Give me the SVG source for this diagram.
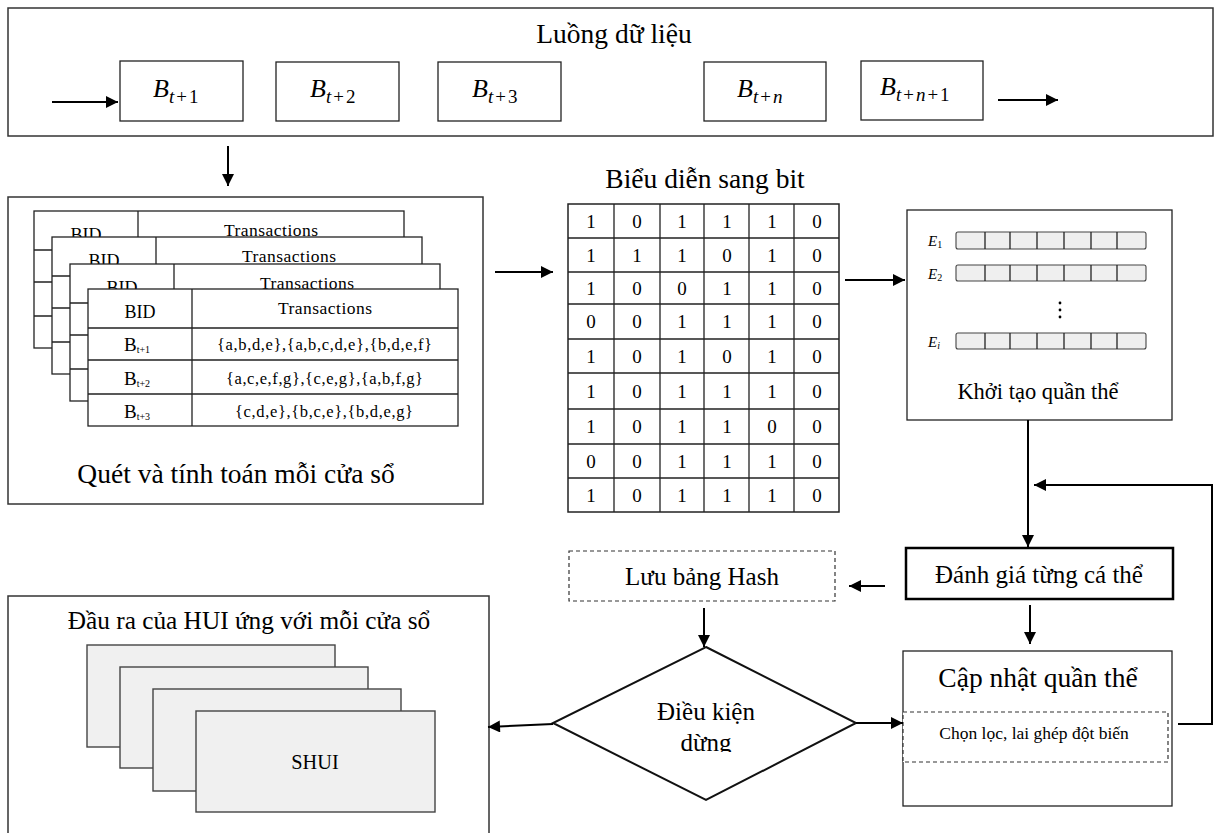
<svg xmlns="http://www.w3.org/2000/svg" width="1218" height="833" viewBox="0 0 1218 833">
<defs>
<style>
text{font-family:"Liberation Serif","Times New Roman",serif;fill:#000}
.box{fill:#fff;stroke:#333;stroke-width:1.5}
.bx{fill:#fff;stroke:#222;stroke-width:1.3}
.tb{fill:#fff;stroke:#222;stroke-width:1.3}
.ln{stroke:#222;stroke-width:1.3;fill:none}
.dash{fill:#fff;stroke:#333;stroke-width:1.2;stroke-dasharray:4 3}
.cell{fill:#efefef;stroke:#444;stroke-width:1.1}
.pg{fill:#f0f0f0;stroke:#444;stroke-width:1.4}
.c{text-anchor:middle}
.m{font-size:19px;text-anchor:middle}
.it{font-style:italic}
.sub{font-size:19px;letter-spacing:2px}
.conn{stroke:#000;stroke-width:2;fill:none;marker-end:url(#ah)}
</style>
<marker id="ah" viewBox="0 0 10 10" refX="10" refY="5" markerWidth="14" markerHeight="12" markerUnits="userSpaceOnUse" orient="auto"><path d="M0,0 L10,5 L0,10 z" fill="#000"/></marker>
<clipPath id="dclip"><rect x="600" y="690" width="220" height="62"/></clipPath>
</defs>

<g id="stream">
<rect class="box" x="8" y="8" width="1205" height="128"/>
<text class="c" x="614" y="43" font-size="27.5">Luồng dữ liệu</text>
<rect class="bx" x="120" y="61" width="123" height="60"/>
<text x="153" y="97" font-size="26"><tspan class="it">B</tspan><tspan class="sub" dy="6"><tspan class="it">t</tspan>+1</tspan></text>
<rect class="bx" x="276" y="62" width="123" height="59"/>
<text x="310" y="97" font-size="26"><tspan class="it">B</tspan><tspan class="sub" dy="6"><tspan class="it">t</tspan>+2</tspan></text>
<rect class="bx" x="438" y="62" width="123" height="59"/>
<text x="472" y="97" font-size="26"><tspan class="it">B</tspan><tspan class="sub" dy="6"><tspan class="it">t</tspan>+3</tspan></text>
<rect class="bx" x="704" y="62" width="122" height="59"/>
<text x="737" y="97" font-size="26"><tspan class="it">B</tspan><tspan class="sub" dy="6"><tspan class="it">t</tspan>+<tspan class="it">n</tspan></tspan></text>
<rect class="bx" x="861" y="61" width="122" height="59"/>
<text x="880" y="95" font-size="26"><tspan class="it">B</tspan><tspan class="sub" dy="6"><tspan class="it">t</tspan>+<tspan class="it">n</tspan>+1</tspan></text>
</g>

<g id="scan">
<rect class="box" x="8" y="197" width="475" height="307"/>
<g id="table1">
<rect class="tb" x="34" y="211" width="370" height="137"/>
<path class="ln" d="M138,211V348M34,250H404M34,282H404M34,316H404"/>
<text class="c" x="86" y="241" font-size="18">BID</text>
<text class="c" x="271" y="236" font-size="17.5" textLength="94" lengthAdjust="spacing">Transactions</text>
</g>
<g id="table2">
<rect class="tb" x="52" y="237" width="370" height="137"/>
<path class="ln" d="M156,237V374M52,276H422M52,308H422M52,342H422"/>
<text class="c" x="104" y="267" font-size="18">BID</text>
<text class="c" x="289" y="262" font-size="17.5" textLength="94" lengthAdjust="spacing">Transactions</text>
</g>
<g id="table3">
<rect class="tb" x="70" y="264" width="370" height="137"/>
<path class="ln" d="M174,264V401M70,303H440M70,335H440M70,369H440"/>
<text class="c" x="122" y="294" font-size="18">BID</text>
<text class="c" x="307" y="289" font-size="17.5" textLength="94" lengthAdjust="spacing">Transactions</text>
</g>
<g id="table4">
<rect class="tb" x="88" y="289" width="370" height="137"/>
<path class="ln" d="M192,289V426M88,328H458M88,360H458M88,394H458"/>
<text class="c" x="140" y="318" font-size="18">BID</text>
<text class="c" x="325" y="314" font-size="17.5" textLength="94" lengthAdjust="spacing">Transactions</text>
<text x="124" y="351" font-size="19">B<tspan font-size="10" dy="2">t+1</tspan></text>
<text x="124" y="385" font-size="19">B<tspan font-size="10" dy="2">t+2</tspan></text>
<text x="124" y="418" font-size="19">B<tspan font-size="10" dy="2">t+3</tspan></text>
<text x="217" y="350" font-size="16.5" textLength="215" lengthAdjust="spacing">{a,b,d,e},{a,b,c,d,e},{b,d,e,f}</text>
<text x="226" y="384" font-size="16.5" textLength="197" lengthAdjust="spacing">{a,c,e,f,g},{c,e,g},{a,b,f,g}</text>
<text x="235" y="417" font-size="16.5" textLength="178" lengthAdjust="spacing">{c,d,e},{b,c,e},{b,d,e,g}</text>
</g>
<text class="c" x="236" y="483" font-size="27.5">Quét và tính toán mỗi cửa sổ</text>
</g>

<g id="bitmatrix">
<text class="c" x="705" y="188" font-size="27.5">Biểu diễn sang bit</text>
<rect x="568" y="204" width="271" height="308" fill="#fff" stroke="#222" stroke-width="1.5"/>
<path class="ln" d="M614,204V512M660,204V512M704,204V512M749,204V512M794,204V512M568,238H839M568,272H839M568,304H839M568,339H839M568,373H839M568,409H839M568,444H839M568,478H839"/>
<g>
<text class="m" x="591" y="228">1</text><text class="m" x="637" y="228">0</text><text class="m" x="682" y="228">1</text><text class="m" x="727" y="228">1</text><text class="m" x="772" y="228">1</text><text class="m" x="817" y="228">0</text>
<text class="m" x="591" y="262">1</text><text class="m" x="637" y="262">1</text><text class="m" x="682" y="262">1</text><text class="m" x="727" y="262">0</text><text class="m" x="772" y="262">1</text><text class="m" x="817" y="262">0</text>
<text class="m" x="591" y="295">1</text><text class="m" x="637" y="295">0</text><text class="m" x="682" y="295">0</text><text class="m" x="727" y="295">1</text><text class="m" x="772" y="295">1</text><text class="m" x="817" y="295">0</text>
<text class="m" x="591" y="328">0</text><text class="m" x="637" y="328">0</text><text class="m" x="682" y="328">1</text><text class="m" x="727" y="328">1</text><text class="m" x="772" y="328">1</text><text class="m" x="817" y="328">0</text>
<text class="m" x="591" y="363">1</text><text class="m" x="637" y="363">0</text><text class="m" x="682" y="363">1</text><text class="m" x="727" y="363">0</text><text class="m" x="772" y="363">1</text><text class="m" x="817" y="363">0</text>
<text class="m" x="591" y="398">1</text><text class="m" x="637" y="398">0</text><text class="m" x="682" y="398">1</text><text class="m" x="727" y="398">1</text><text class="m" x="772" y="398">1</text><text class="m" x="817" y="398">0</text>
<text class="m" x="591" y="433">1</text><text class="m" x="637" y="433">0</text><text class="m" x="682" y="433">1</text><text class="m" x="727" y="433">1</text><text class="m" x="772" y="433">0</text><text class="m" x="817" y="433">0</text>
<text class="m" x="591" y="468">0</text><text class="m" x="637" y="468">0</text><text class="m" x="682" y="468">1</text><text class="m" x="727" y="468">1</text><text class="m" x="772" y="468">1</text><text class="m" x="817" y="468">0</text>
<text class="m" x="591" y="502">1</text><text class="m" x="637" y="502">0</text><text class="m" x="682" y="502">1</text><text class="m" x="727" y="502">1</text><text class="m" x="772" y="502">1</text><text class="m" x="817" y="502">0</text>
</g>
</g>

<g id="population">
<rect class="bx" x="907" y="210" width="265" height="210"/>
<text x="928" y="246" font-size="15" class="it">E<tspan font-size="10" dy="2" font-style="normal">1</tspan></text>
<text x="928" y="279" font-size="15" class="it">E<tspan font-size="10" dy="2" font-style="normal">2</tspan></text>
<text x="928" y="347" font-size="15" class="it">E<tspan font-size="10" dy="2">i</tspan></text>
<g>
<rect class="cell" x="956" y="232" width="190" height="17" rx="2"/>
<path class="ln" d="M985,232v17M1010,232v17M1037,232v17M1064,232v17M1091,232v17M1117,232v17"/>
<rect class="cell" x="956" y="265" width="190" height="16" rx="2"/>
<path class="ln" d="M985,265v16M1010,265v16M1037,265v16M1064,265v16M1091,265v16M1117,265v16"/>
<rect class="cell" x="956" y="333" width="190" height="16" rx="2"/>
<path class="ln" d="M985,333v16M1010,333v16M1037,333v16M1064,333v16M1091,333v16M1117,333v16"/>
</g>
<circle cx="1060" cy="303" r="1.4" fill="#000"/>
<circle cx="1060" cy="310" r="1.4" fill="#000"/>
<circle cx="1060" cy="317" r="1.4" fill="#000"/>
<text class="c" x="1038" y="399" font-size="22.5">Khởi tạo quần thể</text>
</g>

<g id="evaluate">
<rect x="906" y="548" width="267" height="51" fill="#fff" stroke="#000" stroke-width="2.5"/>
<text class="c" x="1039" y="583" font-size="25">Đánh giá từng cá thể</text>
</g>

<g id="update">
<rect class="bx" x="903" y="651" width="269" height="155"/>
<text class="c" x="1038" y="687" font-size="27.5">Cập nhật quần thể</text>
<rect class="dash" x="903" y="712" width="265" height="50"/>
<text class="c" x="1034" y="739" font-size="17.5">Chọn lọc, lai ghép đột biến</text>
</g>

<g id="hash">
<rect class="dash" x="569" y="551" width="266" height="50"/>
<text class="c" x="702" y="585" font-size="25">Lưu bảng Hash</text>
</g>

<g id="stop">
<polygon points="706,647 856,723 706,800 553,723" fill="#fff" stroke="#111" stroke-width="2"/>
<text class="c" x="706" y="720" font-size="25">Điều kiện</text>
<text class="c" x="706" y="751" font-size="25" clip-path="url(#dclip)">dừng</text>
</g>

<g id="output">
<rect class="box" x="8" y="596" width="481" height="260"/>
<text class="c" x="249" y="629" font-size="25.3">Đầu ra của HUI ứng với mỗi cửa sổ</text>
<rect class="pg" x="87" y="645" width="248" height="102"/>
<rect class="pg" x="120" y="667" width="248" height="101"/>
<rect class="pg" x="153" y="689" width="248" height="102"/>
<rect class="pg" x="196" y="711" width="239" height="101"/>
<text class="c" x="315" y="769" font-size="20.3">SHUI</text>
</g>

<g id="connectors">
<path class="conn" d="M52,102H118"/>
<path class="conn" d="M998,100H1058"/>
<path class="conn" d="M228,146V186"/>
<path class="conn" d="M495,272H553"/>
<path class="conn" d="M845,280H905"/>
<path class="conn" d="M1028,420V547"/>
<path class="conn" d="M1178,724H1212V485H1034"/>
<path class="conn" d="M1030,605V644"/>
<path class="conn" d="M885,586H849"/>
<path class="conn" d="M704,608V647"/>
<path class="conn" d="M856,723H903"/>
<path class="conn" d="M553,724L488,727"/>
</g>
</svg>
